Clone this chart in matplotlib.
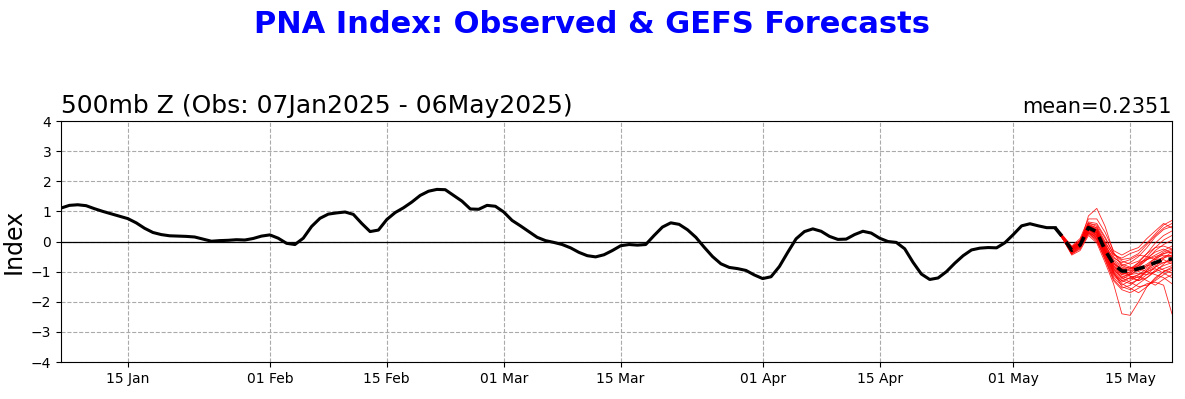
import matplotlib
matplotlib.use("Agg")
import matplotlib.pyplot as plt
import matplotlib.dates as mdates
import numpy as np
import pandas as pd

# Observed PNA index, daily 07 Jan 2025 - 06 May 2025
obs_start = "2025-01-07"
obs_values = [
    1.11, 1.20, 1.22, 1.19, 1.09, 1.00, 0.92, 0.84, 0.76, 0.62,
    0.44, 0.30, 0.23, 0.19, 0.18, 0.17, 0.15, 0.08, 0.01, 0.03,
    0.04, 0.06, 0.05, 0.10, 0.18,
    0.22, 0.11, -0.06, -0.10, 0.11, 0.50, 0.77, 0.91, 0.95, 0.98,
    0.90, 0.60, 0.33, 0.38, 0.73, 0.96, 1.12, 1.31, 1.53, 1.67,
    1.73, 1.72, 1.53, 1.34, 1.08, 1.07, 1.20, 1.17,
    0.98, 0.70, 0.52, 0.33, 0.14, 0.03, -0.03, -0.10, -0.21, -0.36,
    -0.47, -0.51, -0.44, -0.30, -0.14, -0.10, -0.12, -0.10, 0.20, 0.48,
    0.62, 0.57, 0.39, 0.14, -0.19, -0.50, -0.74, -0.86, -0.90, -0.96,
    -1.11,
    -1.23, -1.17, -0.83, -0.36, 0.09, 0.33, 0.42, 0.34, 0.17, 0.07,
    0.08, 0.23, 0.34, 0.28, 0.11, 0.00, -0.03, -0.24, -0.69, -1.08,
    -1.26, -1.21, -1.00, -0.72, -0.47, -0.28, -0.22, -0.20, -0.21, -0.04,
    0.23, 0.52, 0.59, 0.52, 0.46, 0.46,
]

# GEFS forecast, daily 06 May 2025 - 20 May 2025
fc_start = "2025-05-06"
fc_mean = [0.46, 0.12, -0.29, -0.12, 0.46, 0.32, -0.29, -0.75, -0.98, -0.98,
           -0.90, -0.82, -0.70, -0.60, -0.58]

m01 = [0.46, 0.12, -0.30, -0.05, 0.55, 0.40, -0.20, -0.70, -0.95, -1.05, -0.80, -0.50, -0.20, 0.05, 0.20]
m02 = [0.46, 0.08, -0.35, -0.15, 0.35, 0.10, -0.50, -1.10, -1.30, -1.20, -1.10, -1.00, -0.85, -0.70, -0.60]
m03 = [0.46, 0.15, -0.20, 0.05, 0.60, 0.55, 0.10, -0.40, -0.60, -0.55, -0.40, -0.10, 0.20, 0.45, 0.60]
m04 = [0.46, 0.05, -0.45, -0.30, 0.20, -0.05, -0.70, -1.40, -2.40, -2.45, -2.00, -1.50, -1.20, -1.00, -0.90]
m05 = [0.46, 0.10, -0.25, -0.10, 0.45, 0.30, -0.30, -0.85, -1.10, -1.15, -1.30, -1.20, -1.00, -0.75, -0.50]
m06 = [0.46, 0.18, -0.15, 0.10, 0.75, 0.75, 0.30, -0.30, -0.45, -0.30, -0.20, 0.10, 0.35, 0.60, 0.45]
m07 = [0.46, 0.12, -0.28, -0.08, 0.85, 1.10, 0.50, -0.35, -0.80, -0.90, -0.70, -0.60, -0.50, -0.40, -0.35]
m08 = [0.46, 0.06, -0.40, -0.20, 0.30, 0.15, -0.45, -1.00, -1.50, -1.60, -1.40, -1.20, -0.95, -0.80, -0.70]
m09 = [0.46, 0.10, -0.30, -0.12, 0.40, 0.20, -0.35, -0.90, -1.20, -1.35, -1.50, -1.45, -1.30, -1.10, -0.95]
m10 = [0.46, 0.14, -0.22, 0.00, 0.50, 0.35, -0.10, -0.60, -0.80, -0.70, -0.50, -0.20, 0.15, 0.40, 0.50]
m11 = [0.46, 0.09, -0.32, -0.10, 0.42, 0.20, -0.40, -1.00, -1.25, -1.10, -0.95, -0.80, -0.55, -0.35, -0.25]
m12 = [0.46, 0.11, -0.27, -0.05, 0.48, 0.30, -0.25, -0.75, -0.90, -0.85, -0.90, -1.00, -1.10, -1.20, -1.40]
m13 = [0.46, 0.07, -0.38, -0.18, 0.30, 0.05, -0.60, -1.30, -1.60, -1.70, -1.55, -1.40, -1.35, -1.45, -2.40]
m14 = [0.46, 0.13, -0.25, -0.02, 0.52, 0.40, -0.15, -0.55, -0.70, -0.60, -0.45, -0.50, -0.60, -0.55, -0.45]
m15 = [0.46, 0.10, -0.30, -0.08, 0.45, 0.25, -0.35, -0.95, -1.15, -1.25, -1.10, -0.90, -0.70, -0.60, -0.75]
m16 = [0.46, 0.16, -0.18, 0.02, 0.62, 0.50, 0.00, -0.50, -0.75, -0.85, -1.00, -0.85, -0.60, -0.40, -0.30]
m17 = [0.46, 0.08, -0.35, -0.14, 0.38, 0.15, -0.45, -1.05, -1.40, -1.55, -1.70, -1.50, -1.25, -1.00, -0.85]
m18 = [0.46, 0.12, -0.26, -0.06, 0.50, 0.35, -0.20, -0.80, -1.00, -0.95, -0.70, -0.40, -0.05, 0.20, 0.35]
m19 = [0.46, 0.10, -0.29, -0.09, 0.44, 0.28, -0.30, -0.80, -1.05, -1.10, -1.05, -1.10, -1.00, -0.90, -0.80]
m20 = [0.46, 0.05, -0.42, -0.25, 0.25, 0.00, -0.55, -1.20, -1.45, -1.30, -1.15, -1.30, -1.45, -1.25, -1.10]
m21 = [0.46, 0.14, -0.20, 0.03, 0.58, 0.45, -0.05, -0.45, -0.55, -0.40, -0.30, -0.05, 0.25, 0.55, 0.70]
m22 = [0.46, 0.11, -0.28, -0.07, 0.46, 0.30, -0.30, -0.90, -1.10, -1.00, -0.75, -0.55, -0.35, -0.25, -0.40]
m23 = [0.46, 0.09, -0.31, -0.11, 0.40, 0.18, -0.42, -1.05, -1.30, -1.40, -1.25, -0.95, -0.70, -0.50, -0.45]
m24 = [0.46, 0.13, -0.24, -0.03, 0.55, 0.45, -0.10, -0.65, -0.85, -0.95, -0.95, -0.80, -0.75, -0.70, -0.65]
m25 = [0.46, 0.07, -0.37, -0.16, 0.33, 0.10, -0.50, -1.15, -1.35, -1.20, -1.30, -1.10, -0.85, -0.55, -0.35]
m26 = [0.46, 0.12, -0.27, -0.06, 0.47, 0.32, -0.25, -0.70, -0.90, -1.15, -1.20, -0.95, -0.80, -0.95, -1.05]
m27 = [0.46, 0.10, -0.30, -0.10, 0.43, 0.22, -0.35, -0.95, -1.20, -1.05, -0.85, -0.60, -0.30, -0.10, 0.05]
m28 = [0.46, 0.15, -0.21, 0.04, 0.65, 0.60, 0.15, -0.40, -0.65, -0.75, -0.65, -0.40, -0.20, -0.15, -0.25]
m29 = [0.46, 0.06, -0.41, -0.22, 0.28, 0.05, -0.60, -1.25, -1.55, -1.45, -1.25, -1.00, -0.90, -1.05, -1.20]
m30 = [0.46, 0.11, -0.28, -0.08, 0.46, 0.28, -0.30, -0.85, -1.05, -1.10, -0.90, -0.75, -0.55, -0.45, -0.50]
m31 = [0.46, 0.13, -0.23, -0.01, 0.53, 0.38, -0.15, -0.75, -0.95, -0.90, -0.80, -0.60, -0.45, -0.30, -0.15]
members = [m01, m02, m03, m04, m05, m06, m07, m08, m09, m10, m11, m12, m13, m14, m15, m16,
           m17, m18, m19, m20, m21, m22, m23, m24, m25, m26, m27, m28, m29, m30, m31]

suptitle = "PNA Index: Observed & GEFS Forecasts"
left_title = "500mb Z (Obs: 07Jan2025 - 06May2025)"
right_title = "mean=0.2351"
y_label = "Index"

obs_dates = pd.date_range(obs_start, periods=len(obs_values), freq="D")
fc_dates = pd.date_range(fc_start, periods=len(fc_mean), freq="D")

fig = plt.figure(figsize=(11.85, 3.99), dpi=100)
ax = fig.add_axes([0.0515, 0.0927, 0.9375, 0.604])

ax.grid(True, color="#aaaaaa", ls="--", lw=0.8, zorder=1)
ax.set_axisbelow(True)
ax.axhline(0, color="black", lw=0.9, zorder=2)
ax.plot(obs_dates, obs_values, color="black", lw=2.2, zorder=4)
for m in members:
    ax.plot(fc_dates, m, color="red", lw=0.6, alpha=0.85, zorder=3)
ax.plot(fc_dates, fc_mean, color="black", lw=2.6, ls=(0, (3, 2)), zorder=5)

ax.set_xlim(pd.Timestamp("2025-01-07"), pd.Timestamp("2025-05-20"))
ax.set_ylim(-4, 4)
ax.set_yticks(np.arange(-4, 5, 1))
ax.xaxis.set_major_locator(mdates.DayLocator(bymonthday=[1, 15]))
ax.xaxis.set_major_formatter(mdates.DateFormatter("%d %b"))
ax.tick_params(labelsize=10)

ax.set_ylabel(y_label, fontsize=17)
ax.set_title(left_title, loc="left", fontsize=18)
ax.set_title(right_title, loc="right", fontsize=15)
fig.suptitle(suptitle, color="blue", fontsize=22, fontweight="bold", y=0.975)

fig.savefig("out.png", dpi=100)
